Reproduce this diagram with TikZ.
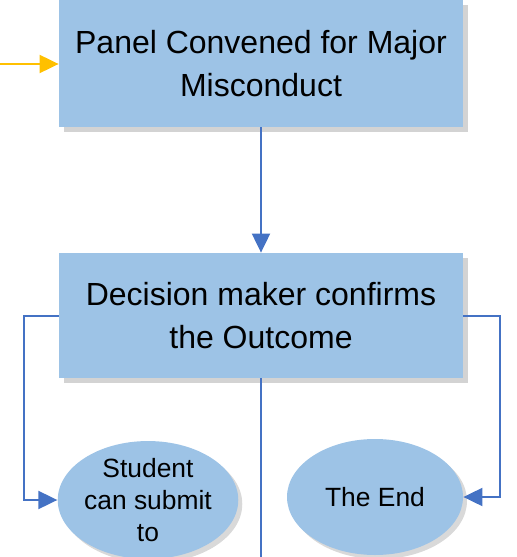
\documentclass[tikz,border=0pt]{standalone}
\usepackage{fontspec}
\setmainfont{Liberation Sans}
\usetikzlibrary{arrows.meta,shadows,shapes.geometric}

\definecolor{boxblue}{HTML}{9DC3E6}
\definecolor{lineblue}{HTML}{4472C4}
\definecolor{feedorange}{HTML}{FFC000}

\tikzset{
    stagebox/.style={fill=boxblue, draw=none, align=center, inner sep=0pt,
        minimum width=202pt, font=\fontsize{16}{21.5}\selectfont,
        drop shadow={shadow xshift=2.5pt, shadow yshift=-2.5pt, opacity=0.35}},
    endoval/.style={ellipse, fill=boxblue, draw=none, align=center, inner sep=0pt,
        font=\fontsize{13.2}{16}\selectfont,
        drop shadow={shadow xshift=2pt, shadow yshift=-2pt, opacity=0.3}},
    flow/.style={lineblue, line width=1pt, -{Triangle[length=9.5pt,width=9pt]}},
    feed/.style={feedorange, line width=1pt, -{Triangle[length=9.5pt,width=9pt]}}
}

\begin{document}
\begin{tikzpicture}[x=0.5pt, y=-0.5pt]
    \useasboundingbox (0,0) rectangle (517,557);
    \clip (0,0) rectangle (517,557);

    % Panel box
    \node[stagebox, minimum height=63.5pt] (panel) at (261,63.5)
        {Panel Convened for Major\\Misconduct};
    \coordinate (feedin) at (-5,64);
    \draw[feed] (feedin) -- (panel.west |- feedin);

    % Decision box
    \node[stagebox, minimum height=62.5pt] (decision) at (261,315.5)
        {Decision maker confirms\\the Outcome};
    \draw[flow] (panel.south) -- (decision.north);

    % Outcomes
    \node[endoval, minimum width=89pt, minimum height=57.5pt] (submit) at (148,500)
        {Student\\can submit\\to};
    \node[endoval, minimum width=88pt, minimum height=58pt] (theend) at (375,497)
        {The End};

    \draw[flow] (decision.west) -- ++(-35,0) |- (submit.west);
    \draw[flow] (decision.east) -- ++(37,0) |- (theend.east);

    % Line running on below
    \coordinate (stem) at (261,565);
    \draw[lineblue, line width=1pt] (decision.south) -- (stem);
\end{tikzpicture}
\end{document}
